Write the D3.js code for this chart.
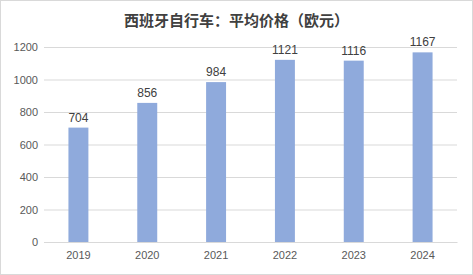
<!DOCTYPE html>
<html><head><meta charset="utf-8">
<script src="https://cdn.jsdelivr.net/npm/d3@7"></script>
<style>body{margin:0;background:#fff}svg{display:block}</style>
</head><body>
<script>
const categories = ["2019","2020","2021","2022","2023","2024"];
const values = [704, 856, 984, 1121, 1116, 1167];
const yTicks = [0,200,400,600,800,1000,1200];
const title = "西班牙自行车：平均价格（欧元）";

const W=473,H=275;
const svg=d3.select("body").append("svg").attr("width",W).attr("height",H);
svg.append("rect").attr("x",0.5).attr("y",0.5).attr("width",W-1).attr("height",H-1).attr("fill","#fff").attr("stroke","#d9d9d9");
const m={l:44,r:16,t:47,b:33};
const x=d3.scaleBand().domain(categories).range([m.l,W-m.r]).paddingInner(0.71).paddingOuter(0.355);
const y=d3.scaleLinear().domain([0,1200]).range([H-m.b,m.t]);
const font="'Noto Sans CJK SC', 'DejaVu Sans', sans-serif";
svg.append("text").attr("x",W/2).attr("y",26).attr("text-anchor","middle").attr("font-family",font).attr("font-size",15).attr("font-weight","bold").attr("fill","#404040").text(title);
const ya=svg.append("g").attr("transform",`translate(${m.l},0)`).call(d3.axisLeft(y).tickValues(yTicks).tickFormat(d3.format("d")).tickSize(-(W-m.l-m.r)).tickPadding(6));
ya.select(".domain").remove();
ya.selectAll("line").attr("stroke","#d9d9d9");
ya.selectAll("text").attr("font-family","'Liberation Sans', Arial, sans-serif").attr("font-size",11).attr("fill","#595959").attr("x",-6);
const xa=svg.append("g").attr("transform",`translate(0,${H-m.b})`).call(d3.axisBottom(x).tickSize(0).tickPadding(9));
xa.select(".domain").attr("stroke","#d9d9d9");
xa.selectAll("text").attr("font-family","'Liberation Sans', Arial, sans-serif").attr("font-size",11).attr("fill","#595959");
svg.selectAll(".bar").data(values).enter().append("rect").attr("class","bar")
 .attr("x",(d,i)=>x(categories[i])).attr("width",x.bandwidth())
 .attr("y",d=>y(d)).attr("height",d=>y(0)-y(d)).attr("fill","#8faadc");
svg.selectAll(".lbl").data(values).enter().append("text").attr("class","lbl")
 .attr("x",(d,i)=>x(categories[i])+x.bandwidth()/2).attr("y",d=>y(d)-6)
 .attr("text-anchor","middle").attr("font-family","'Liberation Sans', Arial, sans-serif").attr("font-size",12).attr("fill","#404040").text(d=>d);
</script>
</body></html>
